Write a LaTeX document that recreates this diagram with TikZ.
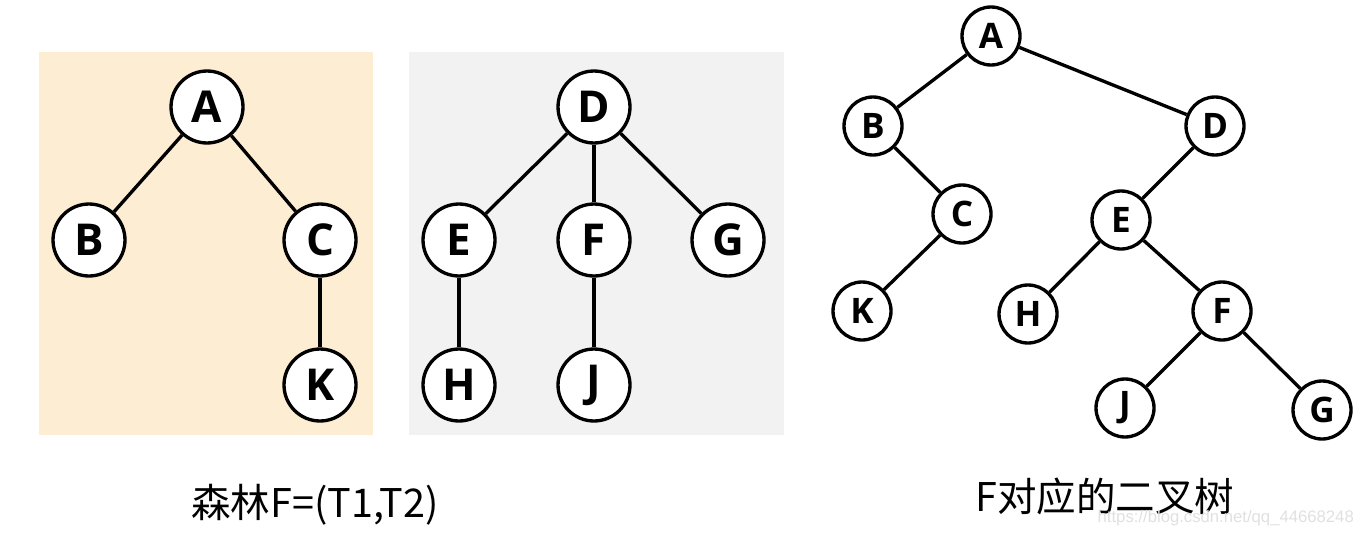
\documentclass[tikz,border=0pt]{standalone}
\usepackage{fontspec}
\setmainfont{Open Sans}
\newfontfamily\cjk{Noto Sans CJK SC}
\newfontfamily\markfont{Liberation Sans}
\usepackage{xcolor}
\usetikzlibrary{positioning}
\definecolor{forestbg}{HTML}{FDEDD3}
\definecolor{treebg}{HTML}{F2F2F2}

\begin{document}
\begin{tikzpicture}[x=0.02cm, y=-0.02cm,
    bignode/.style={circle, draw, line width=1.9pt, fill=white, inner sep=0pt,
      minimum size=1.44cm, font=\fontsize{25}{25}\selectfont\bfseries},
    smallnode/.style={circle, draw, line width=1.9pt, fill=white, inner sep=0pt,
      minimum size=1.16cm, font=\fontsize{20}{20}\selectfont\bfseries},
    edge/.style={line width=1.9pt},
    caption/.style={font=\cjk\fontsize{22.5}{26}\selectfont}]
  \useasboundingbox (0,0) rectangle (1368,534);
  % Backgrounds of the two trees
  \fill[forestbg] (39,52) rectangle (373,435);
  \fill[treebg] (409,52) rectangle (784,435);
  % Forest F: tree T1 and tree T2
  \foreach \name/\lbl/\x/\y in {fa/A/207/107, fb/B/89/240, fc/C/320/240, fk/K/320/385,
      td/D/594/107, te/E/459/240, tf/F/594/240, tg/G/728/240, th/H/459/385, tj/J/594/385}
    \node[bignode] (\name) at (\x,\y) {\lbl};
  \foreach \a/\b in {fa/fb, fa/fc, fc/fk, td/te, td/tf, td/tg, te/th, tf/tj}
    \draw[edge] (\a) -- (\b);
  % Binary tree
  \foreach \name/\lbl/\x/\y in {ba/A/991/36, bb/B/873/126, bd/D/1215/126, bc/C/962/214,
      be/E/1121/220, bk/K/862/311, bh/H/1028/314, bf/F/1222/311, bj/J/1125/408, bg/G/1322/410}
    \node[smallnode] (\name) at (\x,\y) {\lbl};
  \foreach \a/\b in {ba/bb, ba/bd, bb/bc, bc/bk, bd/be, be/bh, be/bf, bf/bj, bf/bg}
    \draw[edge] (\a) -- (\b);
  % Captions
  \node[caption] (forestcap) at (315,505) {森林F=(T1,T2)};
  \node[caption] (bincap) at (1105,496) {F对应的二叉树};
  \node[anchor=east, text=black!12, font=\markfont\fontsize{9.5}{10}\selectfont] (mark) at (1360,518) {https://blog.csdn.net/qq\_44668248};
\end{tikzpicture}
\end{document}
